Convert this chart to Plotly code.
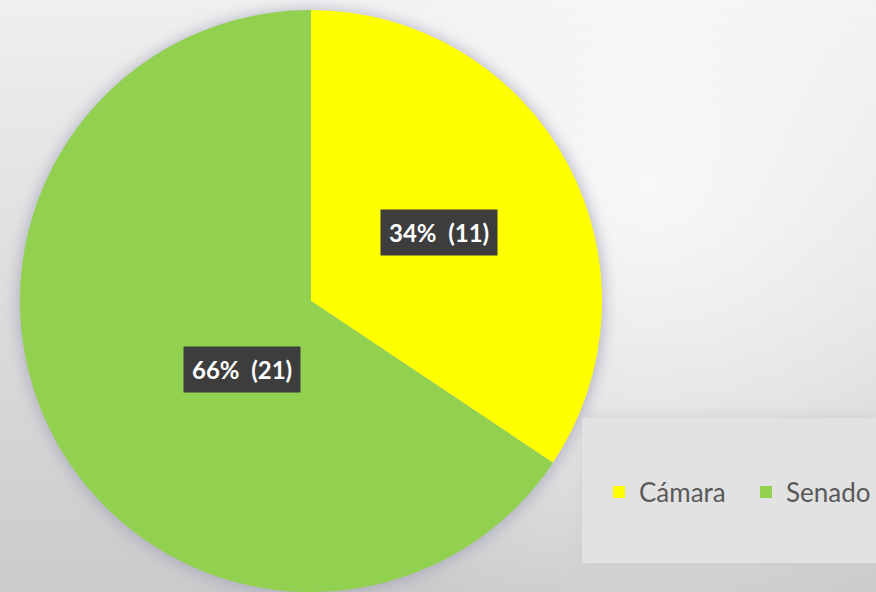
import base64
import math
import plotly.graph_objects as go

W, H = 876, 592

camaras = ["Cámara", "Senado"]
valores = [11, 21]
colores = ["#FFFF00", "#92D050"]

# pie placement (pixels)
PIE_L, PIE_R, PIE_T, PIE_B = 20, 602, 10, 592
cx_px = (PIE_L + PIE_R) / 2
cy_px = (PIE_T + PIE_B) / 2
rad_px = min(PIE_R - PIE_L, PIE_B - PIE_T) / 2

# legend panel (pixels)
LEG_L, LEG_T, LEG_B = 582, 418, 563

# background: soft grey gradient with a light highlight, plus a blurred pie shadow
svg = f"""<svg xmlns='http://www.w3.org/2000/svg' width='{W}' height='{H}'>
<defs>
<linearGradient id='lg' x1='0' y1='0' x2='0' y2='1'>
<stop offset='0' stop-color='#efefef'/><stop offset='1' stop-color='#cbcbcb'/></linearGradient>
<radialGradient id='rg' cx='650' cy='190' r='460' gradientUnits='userSpaceOnUse'>
<stop offset='0' stop-color='#ffffff' stop-opacity='0.75'/>
<stop offset='1' stop-color='#ffffff' stop-opacity='0'/></radialGradient>
<filter id='bl' x='-20%' y='-20%' width='140%' height='140%'><feGaussianBlur stdDeviation='7'/></filter>
</defs>
<rect width='{W}' height='{H}' fill='url(#lg)'/>
<rect width='{W}' height='{H}' fill='url(#rg)'/>
<circle cx='{cx_px}' cy='{cy_px + 2}' r='{rad_px + 3}' fill='#a9a8bd' opacity='0.75' filter='url(#bl)'/>
<rect x='{LEG_L}' y='{LEG_T - 2}' width='{W - LEG_L}' height='{LEG_B - LEG_T + 4}' fill='#c8c8c8' opacity='0.6' filter='url(#bl)'/>
<rect x='{LEG_L}' y='{LEG_T}' width='{W - LEG_L}' height='{LEG_B - LEG_T}' fill='#e2e2e2'/>
</svg>"""
bg_src = "data:image/svg+xml;base64," + base64.b64encode(svg.encode()).decode()

fig = go.Figure(go.Pie(
    labels=camaras, values=valores, sort=False, direction="clockwise", rotation=0,
    marker=dict(colors=colores, line=dict(width=0)),
    textinfo="none", hoverinfo="label+value+percent",
    domain=dict(x=[PIE_L / W, PIE_R / W], y=[1 - PIE_B / H, 1 - PIE_T / H]),
))

# data labels in dark boxes at mid-angle, half radius
total = sum(valores)
acum = 0
annotations = []
for v in valores:
    mid = (acum + v / 2) / total * 2 * math.pi
    acum += v
    px = cx_px + 0.5 * rad_px * math.sin(mid)
    py = cy_px - 0.5 * rad_px * math.cos(mid)
    annotations.append(dict(
        x=px / W, y=1 - py / H, xref="paper", yref="paper", showarrow=False,
        text=f"<b>{round(v / total * 100)}%&nbsp;&nbsp;({v})</b>",
        font=dict(family="Lato, sans-serif", size=24, color="#ffffff"),
        bgcolor="#3d3d3d", borderpad=8,
    ))

fig.update_layout(
    width=W, height=H, margin=dict(l=0, r=0, t=0, b=0, autoexpand=False),
    paper_bgcolor="#e4e4e4", plot_bgcolor="rgba(0,0,0,0)",
    images=[dict(source=bg_src, xref="paper", yref="paper", x=0, y=1, sizex=1, sizey=1,
                 sizing="stretch", layer="below", xanchor="left", yanchor="top")],
    annotations=annotations,
    showlegend=True,
    legend=dict(orientation="h", x=599 / W, y=1 - 492 / H, xanchor="left", yanchor="middle",
                bgcolor="rgba(0,0,0,0)", font=dict(family="Lato, sans-serif", size=26, color="#595959"),
                itemwidth=30, entrywidth=102),
)

fig.write_html("out.html", config={"displayModeBar": False},
               post_script="document.body.style.margin='0';")
